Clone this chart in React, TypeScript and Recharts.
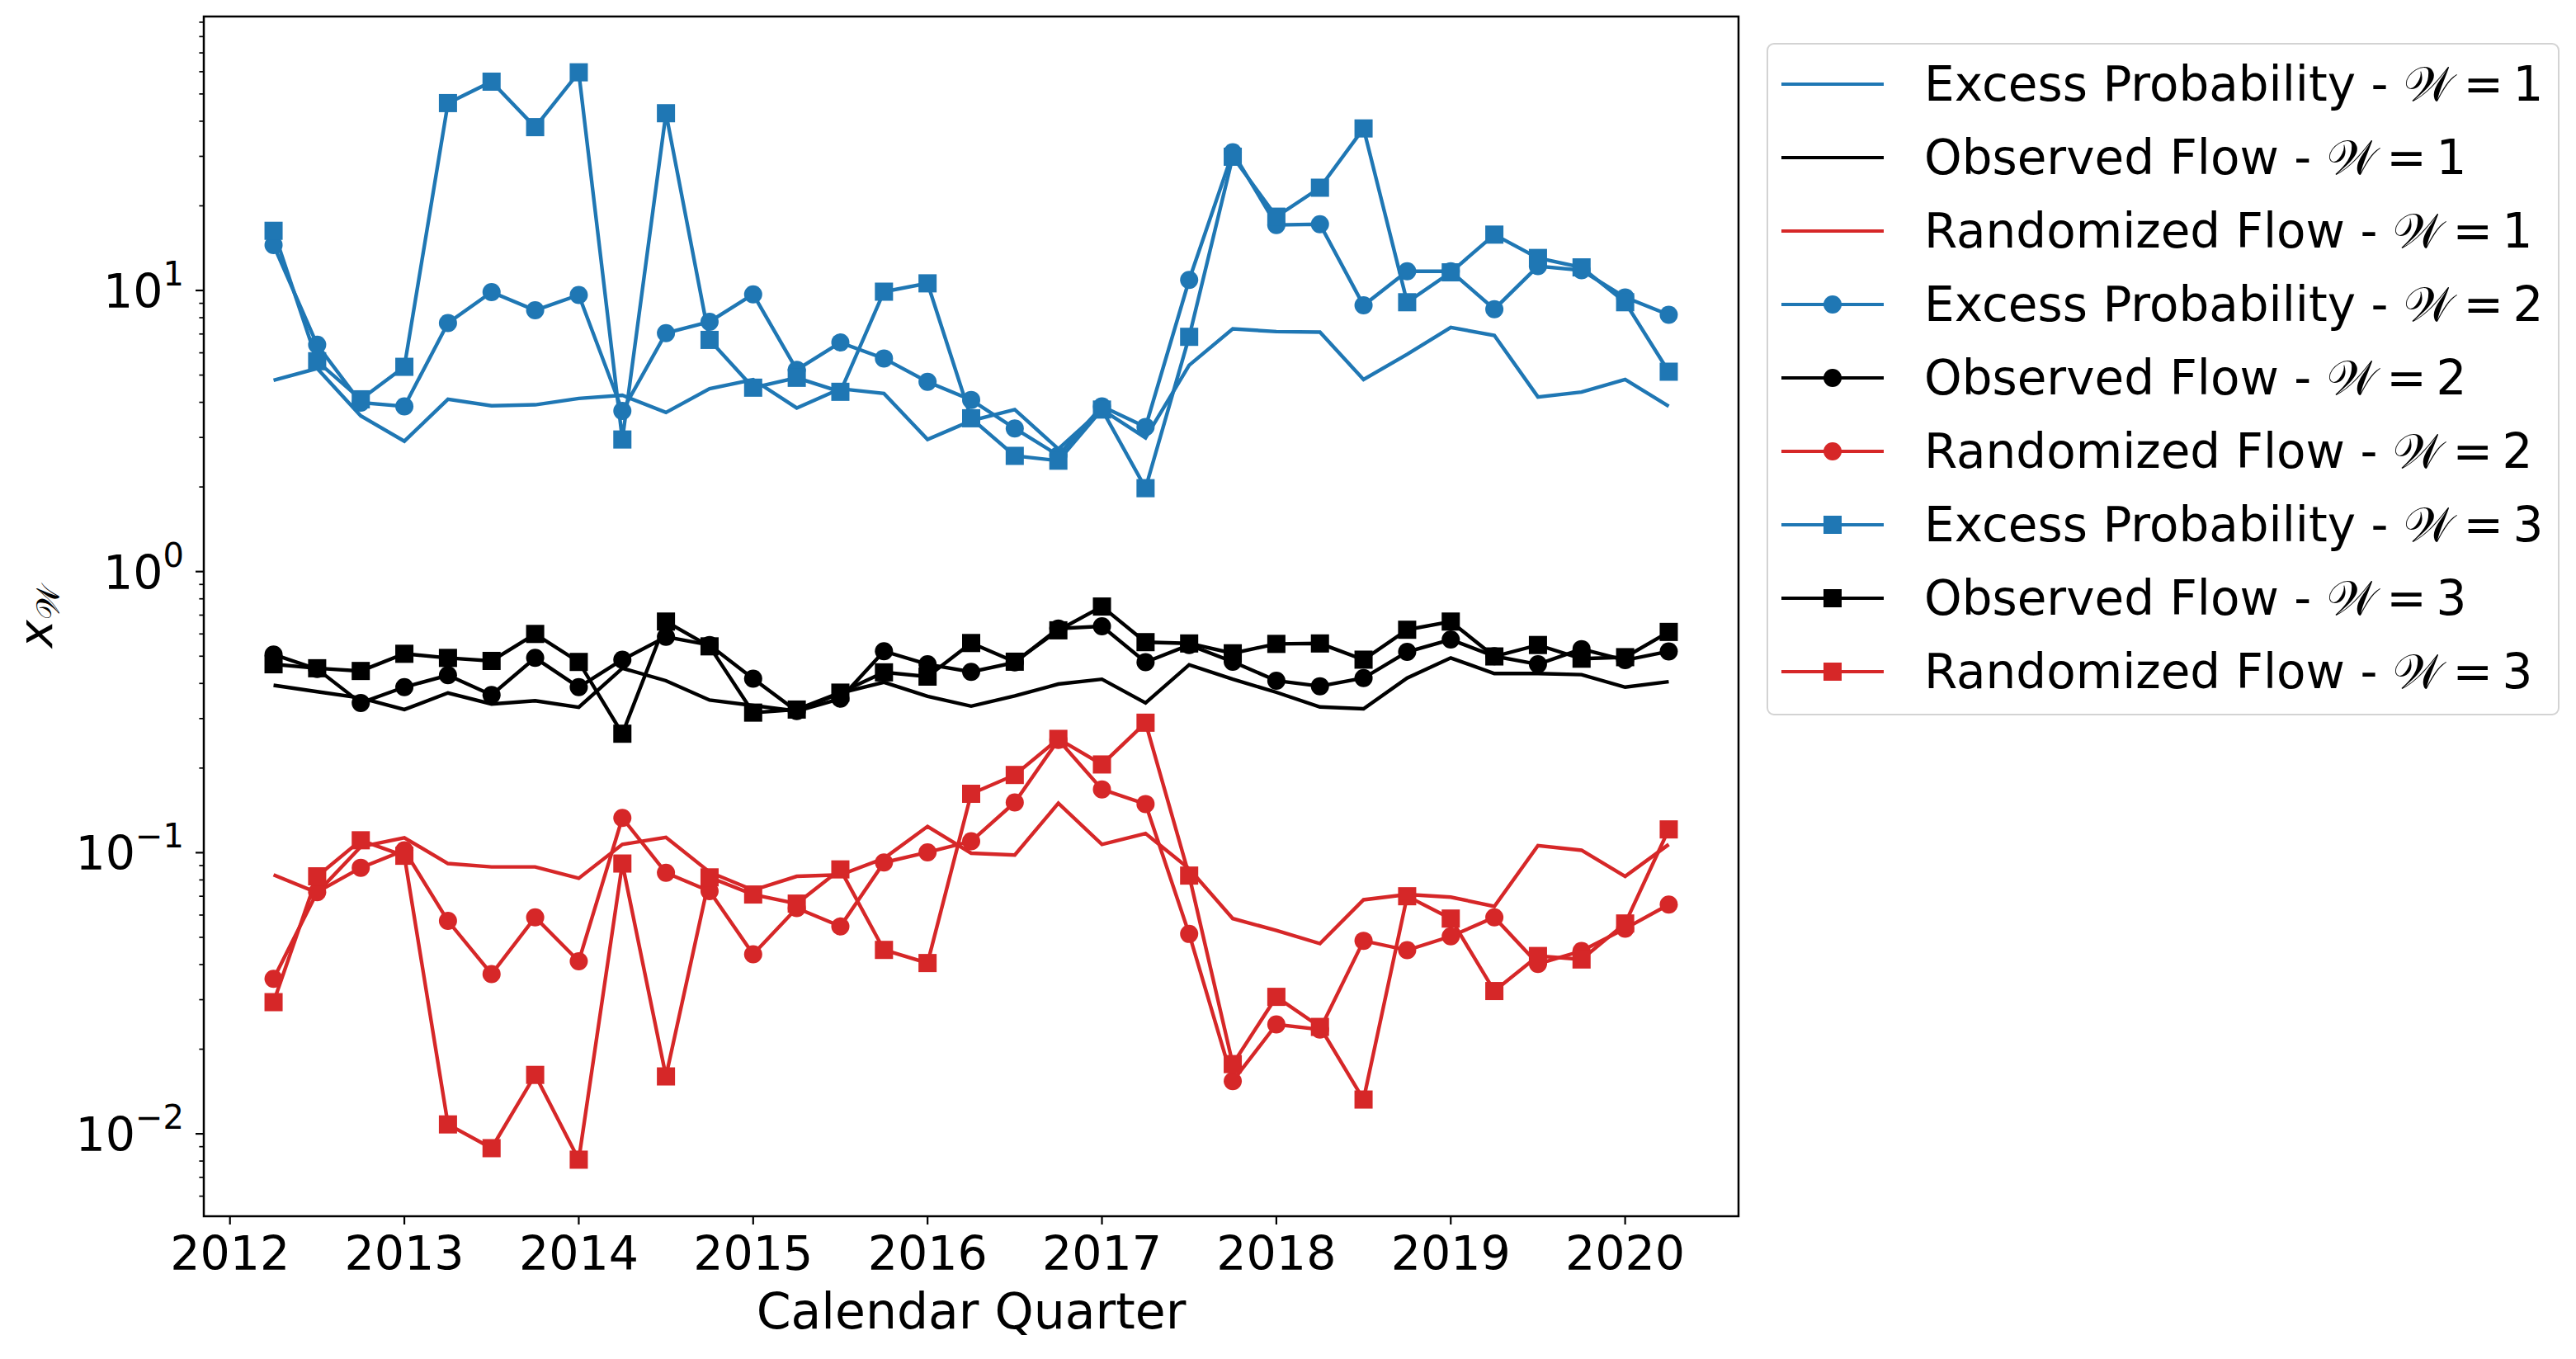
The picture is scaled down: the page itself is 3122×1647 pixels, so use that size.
import React from 'react';
import { LineChart, Line, XAxis, YAxis, ReferenceArea } from 'recharts';

// calendar quarters (x values)
const quarters = [
  2012.25, 2012.5, 2012.75, 2013, 2013.25, 2013.5, 2013.75, 2014, 2014.25, 2014.5, 2014.75,
  2015, 2015.25, 2015.5, 2015.75, 2016, 2016.25, 2016.5, 2016.75, 2017, 2017.25, 2017.5,
  2017.75, 2018, 2018.25, 2018.5, 2018.75, 2019, 2019.25, 2019.5, 2019.75, 2020, 2020.25,
];

// Excess Probability
const excessW1 = [
  4.79, 5.28, 3.58, 2.91, 4.1, 3.89, 3.92, 4.13, 4.24, 3.68, 4.47, 4.82, 3.82, 4.47, 4.3, 2.95, 3.44,
  3.77, 2.73, 3.77, 2.99, 5.42, 7.3, 7.14, 7.11, 4.82, 5.93, 7.39, 6.92, 4.18, 4.35, 4.82, 3.87,
];
const excessW2 = [
  14.5, 6.41, 3.99, 3.87, 7.66, 9.87, 8.5, 9.64, 3.73, 7.05, 7.74, 9.69, 5.22, 6.53, 5.73, 4.73, 4.08,
  3.23, 2.59, 3.87, 3.27, 10.9, 31.0, 17.1, 17.2, 8.85, 11.7, 11.7, 8.58, 12.2, 11.8, 9.45, 8.19,
];
const excessW3 = [
  16.3, 5.6, 4.1, 5.35, 46.4, 55.3, 38.1, 59.7, 2.95, 42.7, 6.67, 4.51, 4.89, 4.36, 9.9, 10.6, 3.51,
  2.58, 2.48, 3.77, 1.98, 6.84, 29.9, 18.3, 23.2, 37.7, 9.08, 11.6, 15.8, 13.05, 12.08, 9.08, 5.14,
];

// Observed Flow
const observedW1 = [
  0.394, 0.374, 0.355, 0.323, 0.37, 0.338, 0.347, 0.329, 0.453, 0.409, 0.349, 0.334, 0.319, 0.37,
  0.404, 0.36, 0.332, 0.361, 0.398, 0.414, 0.341, 0.466, 0.414, 0.372, 0.33, 0.325, 0.418, 0.493,
  0.434, 0.434, 0.43, 0.388, 0.406,
];
const observedW2 = [
  0.507, 0.45, 0.341, 0.388, 0.428, 0.364, 0.493, 0.388, 0.486, 0.586, 0.548, 0.416, 0.319, 0.353,
  0.521, 0.468, 0.44, 0.475, 0.627, 0.639, 0.476, 0.548, 0.478, 0.409, 0.391, 0.418, 0.518, 0.573,
  0.5, 0.468, 0.53, 0.484, 0.52,
];
const observedW3 = [
  0.468, 0.453, 0.443, 0.51, 0.493, 0.481, 0.6, 0.477, 0.265, 0.664, 0.542, 0.315, 0.323, 0.371,
  0.438, 0.423, 0.557, 0.478, 0.618, 0.751, 0.561, 0.555, 0.512, 0.553, 0.555, 0.486, 0.621, 0.664,
  0.499, 0.548, 0.49, 0.496, 0.61,
];

// Randomized Flow
const randomW1 = [
  0.0834, 0.0721, 0.105, 0.113, 0.0915, 0.089, 0.089, 0.0811, 0.107, 0.1134, 0.0853, 0.0736, 0.0824,
  0.0834, 0.0954, 0.124, 0.0996, 0.0981, 0.15, 0.107, 0.117, 0.0877, 0.0583, 0.0529, 0.0475, 0.068,
  0.071, 0.0695, 0.0644, 0.106, 0.102, 0.0824, 0.107,
];
const randomW2 = [
  0.0356, 0.0724, 0.0884, 0.102, 0.0572, 0.037, 0.0589, 0.0411, 0.133, 0.0848, 0.073, 0.0435, 0.0635,
  0.0547, 0.0923, 0.1003, 0.1098, 0.151, 0.252, 0.168, 0.149, 0.0514, 0.0154, 0.0245, 0.0235, 0.0486,
  0.045, 0.0504, 0.0589, 0.0402, 0.0447, 0.0537, 0.0654,
];
const randomW3 = [
  0.0294, 0.0824, 0.1107, 0.0975, 0.0108, 0.00889, 0.0162, 0.00809, 0.0915, 0.016, 0.0817, 0.071,
  0.0659, 0.0872, 0.0451, 0.0405, 0.162, 0.189, 0.254, 0.206, 0.29, 0.0829, 0.0177, 0.0307, 0.024,
  0.01324, 0.07, 0.0583, 0.0322, 0.0429, 0.0417, 0.056, 0.121,
];

const yearTicks = [2012, 2013, 2014, 2015, 2016, 2017, 2018, 2019, 2020];
const majorTicks = [0.01, 0.1, 1, 10];
const minorTicks = [
  0.006, 0.007, 0.008, 0.009, 0.02, 0.03, 0.04, 0.05, 0.06, 0.07, 0.08, 0.09, 0.2, 0.3, 0.4, 0.5,
  0.6, 0.7, 0.8, 0.9, 2, 3, 4, 5, 6, 7, 8, 9, 20, 30, 40, 50, 60, 70, 80, 90,
];

const BLUE = '#1f77b4';
const BLACK = '#000000';
const RED = '#d62728';
const FONT = '"DejaVu Sans", sans-serif';
const W = '\u{1D4B2}';

type Marker = 'none' | 'circle' | 'square';
const series: { key: string; name: string; w: number; color: string; marker: Marker; values: number[] }[] = [
  { key: 'ep1', name: 'Excess Probability', w: 1, color: BLUE, marker: 'none', values: excessW1 },
  { key: 'of1', name: 'Observed Flow', w: 1, color: BLACK, marker: 'none', values: observedW1 },
  { key: 'rf1', name: 'Randomized Flow', w: 1, color: RED, marker: 'none', values: randomW1 },
  { key: 'ep2', name: 'Excess Probability', w: 2, color: BLUE, marker: 'circle', values: excessW2 },
  { key: 'of2', name: 'Observed Flow', w: 2, color: BLACK, marker: 'circle', values: observedW2 },
  { key: 'rf2', name: 'Randomized Flow', w: 2, color: RED, marker: 'circle', values: randomW2 },
  { key: 'ep3', name: 'Excess Probability', w: 3, color: BLUE, marker: 'square', values: excessW3 },
  { key: 'of3', name: 'Observed Flow', w: 3, color: BLACK, marker: 'square', values: observedW3 },
  { key: 'rf3', name: 'Randomized Flow', w: 3, color: RED, marker: 'square', values: randomW3 },
];

const rows = quarters.map((t, i) => {
  const row: Record<string, number> = { t };
  series.forEach((s) => {
    row[s.key] = s.values[i];
  });
  return row;
});

const X_MIN = 2011.85;
const X_MAX = 2020.65;
const Y_MIN = 0.00509;
const Y_MAX = 94.3;

function makeDot(marker: Marker, color: string, key: string) {
  if (marker === 'none') return false;
  if (marker === 'circle') {
    return (p: any) => <circle key={`${key}-${p.index}`} cx={p.cx} cy={p.cy} r={11} fill={color} />;
  }
  return (p: any) => (
    <rect key={`${key}-${p.index}`} x={p.cx - 11} y={p.cy - 11} width={22} height={22} fill={color} />
  );
}

function XTick({ x, y, payload }: any) {
  return (
    <g>
      <line x1={x} x2={x} y1={y} y2={y + 10} stroke="#000" strokeWidth={2.2} />
      <text x={x} y={y + 65} textAnchor="middle" fontSize={57} fontFamily={FONT} fill="#000">
        {payload.value}
      </text>
    </g>
  );
}

function YTick({ x, y, payload }: any) {
  const v = payload.value;
  const isMajor = majorTicks.some((m) => Math.abs(m - v) < m * 1e-6);
  if (!isMajor) {
    return <line x1={x - 5.6} x2={x} y1={y} y2={y} stroke="#000" strokeWidth={1.7} />;
  }
  const exp = Math.round(Math.log10(v));
  return (
    <g>
      <line x1={x - 10} x2={x} y1={y} y2={y} stroke="#000" strokeWidth={2.2} />
      <text x={x - 24} y={y + 21} textAnchor="end" fontSize={57} fontFamily={FONT} fill="#000">
        10
        <tspan dy={-27} fontSize={40}>
          {exp < 0 ? `\u2212${-exp}` : `${exp}`}
        </tspan>
      </text>
    </g>
  );
}

function XLabel({ viewBox }: any) {
  return (
    <text x={viewBox.x + viewBox.width / 2} y={viewBox.y + 136} textAnchor="middle" fontSize={60} fontFamily={FONT} fill="#000">
      Calendar Quarter
    </text>
  );
}

function YLabel({ viewBox }: any) {
  const cx = 63;
  const cy = viewBox.y + viewBox.height / 2;
  return (
    <text x={cx} y={cy} transform={`rotate(-90, ${cx}, ${cy})`} textAnchor="middle" fontSize={57} fontFamily={FONT} fill="#000">
      <tspan fontStyle="italic">x</tspan>
      <tspan dy={9} fontSize={40}>
        {W}
      </tspan>
    </text>
  );
}

function LegendSample({ color, marker }: { color: string; marker: Marker }) {
  return (
    <svg width={124} height={30} style={{ display: 'block', flex: 'none' }}>
      <line x1={0} x2={124} y1={15} y2={15} stroke={color} strokeWidth={4.2} />
      {marker === 'circle' && <circle cx={62} cy={15} r={11} fill={color} />}
      {marker === 'square' && <rect x={51} y={4} width={22} height={22} fill={color} />}
    </svg>
  );
}

function LegendBox() {
  return (
    <div
      style={{
        position: 'absolute',
        left: 2141,
        top: 52,
        width: 961,
        height: 815,
        boxSizing: 'border-box',
        border: '2.5px solid #d3d3d3',
        borderRadius: 9,
        background: '#fff',
        paddingTop: 3,
        paddingLeft: 16,
        fontFamily: FONT,
        fontSize: 58,
        color: '#000',
      }}
    >
      {series.map((s) => (
        <div key={s.key} style={{ height: 89, display: 'flex', alignItems: 'center', whiteSpace: 'nowrap' }}>
          <LegendSample color={s.color} marker={s.marker} />
          <span style={{ marginLeft: 49, lineHeight: 1 }}>
            {s.name} - {W}
            {'\u2009=\u2009'}
            {s.w}
          </span>
        </div>
      ))}
    </div>
  );
}

export default function App() {
  return (
    <div style={{ position: 'absolute', left: 0, top: 0, width: 3122, height: 1647, background: '#fff' }}>
      <LineChart width={3122} height={1647} data={rows} margin={{ top: 20, right: 1015, bottom: 0, left: 0 }}>
        <XAxis
          dataKey="t"
          type="number"
          domain={[X_MIN, X_MAX]}
          ticks={yearTicks}
          allowDataOverflow
          interval={0}
          height={173}
          tickSize={0}
          tickMargin={0}
          tickLine={false}
          axisLine={false}
          tick={<XTick />}
          label={<XLabel />}
        />
        <YAxis
          type="number"
          scale="log"
          domain={[Y_MIN, Y_MAX]}
          ticks={[...minorTicks, ...majorTicks].sort((a, b) => a - b)}
          allowDataOverflow
          interval={0}
          width={247}
          tickSize={0}
          tickMargin={0}
          tickLine={false}
          axisLine={false}
          tick={<YTick />}
          label={<YLabel />}
        />
        {series.map((s) => (
          <Line
            key={s.key}
            dataKey={s.key}
            name={s.name}
            type="linear"
            stroke={s.color}
            strokeWidth={4.4}
            dot={makeDot(s.marker, s.color, s.key) as any}
            activeDot={false}
            isAnimationActive={false}
          />
        ))}
        <ReferenceArea
          x1={X_MIN}
          x2={X_MAX}
          y1={Y_MIN}
          y2={Y_MAX}
          ifOverflow="visible"
          fill="none"
          fillOpacity={0}
          stroke="#000"
          strokeWidth={2.5}
        />
      </LineChart>
      <LegendBox />
    </div>
  );
}
